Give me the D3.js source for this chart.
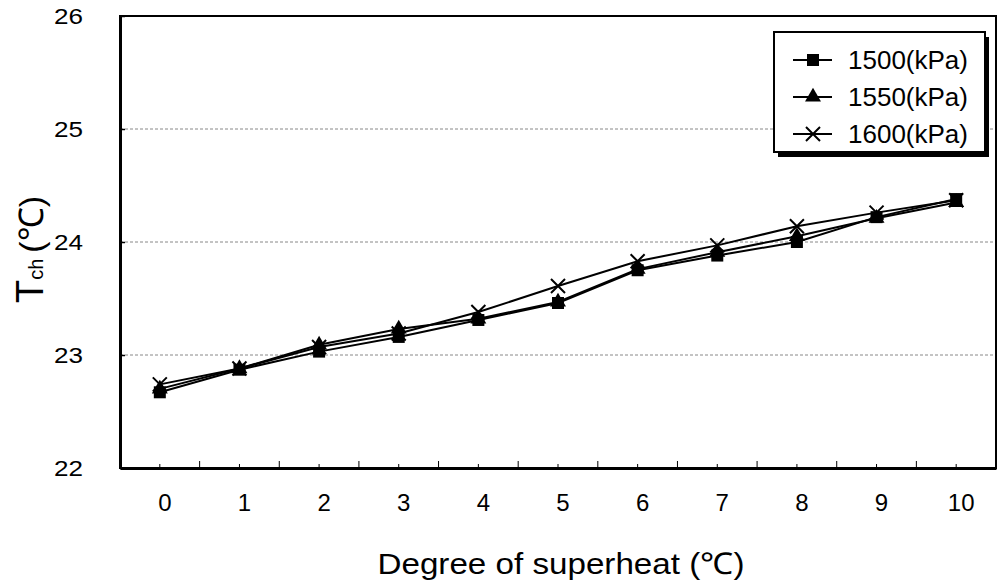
<!DOCTYPE html>
<html>
<head>
<meta charset="utf-8">
<script src="https://cdn.jsdelivr.net/npm/d3@7"></script>
<style>
  body { margin: 0; background: #fff; }
  svg text { font-family: "Liberation Sans", Arial, sans-serif; fill: #000; }
</style>
</head>
<body>
<div class="chart"></div>
<script>
// superheat degree (categories on the x axis)
var superheat = [0, 1, 2, 3, 4, 5, 6, 7, 8, 9, 10];
// T_ch values, one list per pressure
var t1500 = [22.67, 22.87, 23.03, 23.16, 23.31, 23.46, 23.75, 23.88, 24.00, 24.22, 24.38];
var t1550 = [22.70, 22.88, 23.09, 23.23, 23.32, 23.47, 23.76, 23.91, 24.05, 24.21, 24.35];
var t1600 = [22.74, 22.88, 23.07, 23.19, 23.38, 23.61, 23.83, 23.97, 24.14, 24.26, 24.37];
var seriesNames = ["1500(kPa)", "1550(kPa)", "1600(kPa)"];
var yTicks = [22, 23, 24, 25, 26];

var values = { width: 997, height: 585, left: 120, right: 996, top: 16, bottom: 468 };

var series = [
  { name: seriesNames[0], vals: t1500, shape: "square" },
  { name: seriesNames[1], vals: t1550, shape: "triangle" },
  { name: seriesNames[2], vals: t1600, shape: "x" }
];

var x = d3.scaleBand()
  .domain(superheat)
  .range([values.left, values.right])
  .paddingInner(0).paddingOuter(0);

var y = d3.scaleLinear()
  .domain([d3.min(yTicks), d3.max(yTicks)])
  .range([values.bottom, values.top]);

var cx = function (c) { return x(c) + x.bandwidth() / 2; };

var svg = d3.select('.chart')
  .append('svg')
  .attr("width", values.width)
  .attr("height", values.height);

// dashed grid lines
svg.append("g")
  .selectAll("line")
  .data(yTicks.filter(function (t) { return t > 22 && t < 26; }))
  .enter()
  .append("line")
  .attr("x1", values.left)
  .attr("x2", values.right)
  .attr("y1", d => y(d))
  .attr("y2", d => y(d))
  .attr("stroke", "#888")
  .attr("stroke-width", 1)
  .attr("stroke-dasharray", "3,2");

// plot frame
svg.append("rect")
  .attr("x", values.left)
  .attr("y", values.top)
  .attr("width", values.right - values.left)
  .attr("height", values.bottom - values.top)
  .attr("fill", "none")
  .attr("stroke", "#000")
  .attr("stroke-width", 2);

// y axis
var yAxis = d3.axisLeft(y).tickValues(yTicks).tickFormat(d3.format("d"))
  .tickSizeInner(-5).tickSizeOuter(0).tickPadding(37);
var gy = svg.append("g")
  .attr("transform", "translate(" + values.left + ",0)")
  .call(yAxis);
gy.select(".domain").attr("stroke", "#000").attr("stroke-width", 3);
gy.selectAll(".tick line").attr("stroke", "#000").attr("stroke-width", 1.5);
gy.selectAll(".tick text")
  .attr("font-size", 22)
  .attr("font-family", "Liberation Sans, Arial, sans-serif")
  .attr("dy", "0.36em")
  .attr("textLength", 29)
  .attr("lengthAdjust", "spacingAndGlyphs");

// x axis: minor ticks at category centres
var xAxis = d3.axisBottom(x).tickSizeInner(-4).tickSizeOuter(0).tickPadding(33);
var gx = svg.append("g")
  .attr("transform", "translate(0," + values.bottom + ")")
  .call(xAxis);
gx.select(".domain").attr("stroke", "#000").attr("stroke-width", 3);
gx.selectAll(".tick line").attr("stroke", "#000").attr("stroke-width", 1);
gx.selectAll(".tick text")
  .attr("font-size", 24)
  .attr("font-family", "Liberation Sans, Arial, sans-serif")
  .attr("dx", 5)
  .attr("dy", "0.4em");

// x axis: major ticks at category boundaries
svg.append("g")
  .selectAll("line")
  .data(superheat.slice(1))
  .enter()
  .append("line")
  .attr("x1", d => x(d))
  .attr("x2", d => x(d))
  .attr("y1", values.bottom)
  .attr("y2", values.bottom - 7)
  .attr("stroke", "#000")
  .attr("stroke-width", 1);

// axis titles
svg.append("text")
  .attr("x", (values.left + values.right) / 2 + 3)
  .attr("y", 574)
  .attr("text-anchor", "middle")
  .attr("font-size", 30)
  .attr("textLength", 367)
  .attr("lengthAdjust", "spacingAndGlyphs")
  .text("Degree of superheat (℃)");

var ylab = svg.append("text")
  .attr("transform", "translate(43,303) rotate(-90)")
  .attr("text-anchor", "start")
  .attr("font-size", 38);
ylab.append("tspan").text("T");
ylab.append("tspan").attr("font-size", 20).attr("dy", 0).text("ch");
ylab.append("tspan").attr("font-size", 34).attr("dx", 6).text("(℃)");

// marker paths
var symbolFor = function (shape) {
  if (shape === "square") return d3.symbol().type(d3.symbolSquare).size(144)();
  if (shape === "triangle") return d3.symbol().type(d3.symbolTriangle).size(110)();
  return d3.symbol().type(d3.symbolX).size(130)();
};

var drawMarker = function (g, shape, px, py) {
  var p = g.append("path")
    .attr("d", symbolFor(shape))
    .attr("transform", "translate(" + px + "," + py + ")");
  if (shape === "x") {
    p.attr("fill", "none").attr("stroke", "#000").attr("stroke-width", 2);
  } else {
    p.attr("fill", "#000").attr("stroke", "none");
  }
};

var line = d3.line()
  .x((d, i) => cx(superheat[i]))
  .y(d => y(d));

var plot = svg.append("g");
series.forEach(function (s) {
  plot.append("path")
    .datum(s.vals)
    .attr("d", line)
    .attr("fill", "none")
    .attr("stroke", "#000")
    .attr("stroke-width", 2);
});
series.forEach(function (s) {
  s.vals.forEach(function (v, i) {
    drawMarker(plot, s.shape, cx(superheat[i]), y(v));
  });
});

// legend with drop shadow
var lg = svg.append("g");
lg.append("rect")
  .attr("x", 778).attr("y", 37)
  .attr("width", 211).attr("height", 120)
  .attr("fill", "#000");
lg.append("rect")
  .attr("x", 774).attr("y", 32)
  .attr("width", 211).attr("height", 120)
  .attr("fill", "#fff")
  .attr("stroke", "#000")
  .attr("stroke-width", 2);

var rowY = [60, 97, 134];
series.forEach(function (s, i) {
  lg.append("line")
    .attr("x1", 793).attr("x2", 832)
    .attr("y1", rowY[i]).attr("y2", rowY[i])
    .attr("stroke", "#000").attr("stroke-width", 2);
  drawMarker(lg, s.shape, 813, rowY[i]);
  lg.append("text")
    .attr("x", 848)
    .attr("y", rowY[i])
    .attr("dy", "0.36em")
    .attr("font-size", 25)
    .attr("textLength", 120)
    .attr("lengthAdjust", "spacingAndGlyphs")
    .text(s.name);
});
</script>
</body>
</html>
